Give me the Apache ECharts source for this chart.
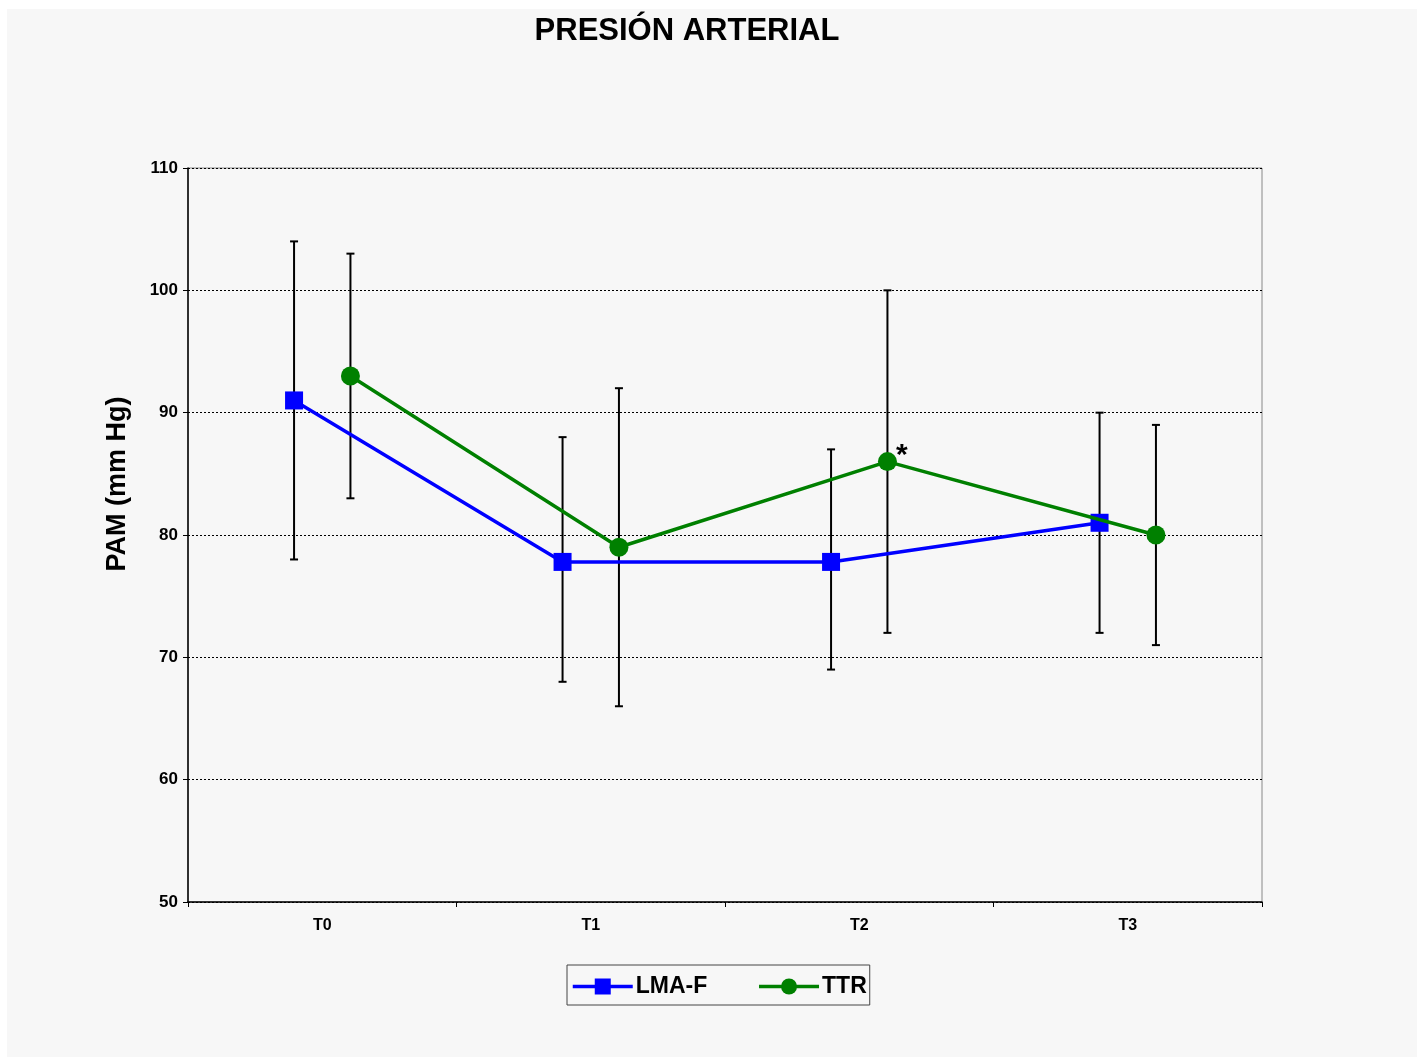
<!DOCTYPE html>
<html><head><meta charset="utf-8">
<script src="https://cdn.jsdelivr.net/npm/echarts@6/dist/echarts.min.js"></script>
<style>html,body{margin:0;padding:0;background:#fff}#c{width:1424px;height:1059px}</style>
</head><body><div id="c"></div>
<script>
const categories = ['T0','T1','T2','T3'];
const lmaMean = [91, 77.8, 77.8, 81];
const lmaLow  = [78, 68, 69, 72];
const lmaHigh = [104, 88, 87, 90];
const ttrMean = [93, 79, 86, 80];
const ttrLow  = [83, 66, 72, 71];
const ttrHigh = [103, 92, 100, 89];
const ttrNotes = ['', '', '*', ''];
const yTicks = [50, 60, 70, 80, 90, 100, 110];

const LMA_OFF = 0.395, TTR_OFF = 0.605;
const lmaPts = lmaMean.map((v,i)=>[i+LMA_OFF, v]);
const ttrPts = ttrMean.map((v,i)=>({value:[i+TTR_OFF, v], label: ttrNotes[i] ? {show:true, formatter: ttrNotes[i], position:'right', offset:[-6,-6], fontSize:30, fontWeight:'bold', color:'#000', fontFamily:'Liberation Sans'} : {show:false}}));
const lmaErr = lmaMean.map((v,i)=>[i+LMA_OFF, lmaLow[i], lmaHigh[i]]);
const ttrErr = ttrMean.map((v,i)=>[i+TTR_OFF, ttrLow[i], ttrHigh[i]]);

function errRender(params, api){
  const x = api.value(0), lo = api.value(1), hi = api.value(2);
  const p1 = api.coord([x, hi]), p2 = api.coord([x, lo]);
  const cap = 4;
  const st = {stroke:'#000', lineWidth:2};
  return {type:'group', children:[
    {type:'line', shape:{x1:p1[0],y1:p1[1],x2:p2[0],y2:p2[1]}, style:st},
    {type:'line', shape:{x1:p1[0]-cap,y1:p1[1],x2:p1[0]+cap,y2:p1[1]}, style:st},
    {type:'line', shape:{x1:p2[0]-cap,y1:p2[1],x2:p2[0]+cap,y2:p2[1]}, style:st}
  ]};
}

const chart = echarts.init(document.getElementById('c'));
const font = 'Liberation Sans';
chart.setOption({
  backgroundColor:'#fff',
  animation:false,
  textStyle:{fontFamily:font},
  graphic:[
    {type:'rect', shape:{x:7,y:9,width:1410,height:1048}, style:{fill:'#f7f7f7'}, z:-100, silent:true},
    {type:'text', x:118, y:484, rotation:Math.PI/2, silent:true, z:10,
     style:{text:'PAM (mm Hg)', fill:'#000', font:'bold 27px "Liberation Sans"', textAlign:'center', textVerticalAlign:'middle'}}
  ],
  title:{text:'PRESIÓN ARTERIAL', left:682, textAlign:'center', top:11,
    textStyle:{fontSize:31, fontWeight:'bold', color:'#000', fontFamily:font}},
  grid:{left:188, top:168, right:162, bottom:157, show:true, borderColor:'#888', borderWidth:1, backgroundColor:'transparent'},
  legend:{data:['LMA-F','TTR'], left:567, top:965, width:302, height:40, padding:[10,3,7,4],
    borderColor:'#444', borderWidth:1, itemWidth:60, itemHeight:20, itemGap:50,
    lineStyle:{width:3.5},
    textStyle:{fontSize:23, fontWeight:'bold', color:'#000', fontFamily:font, padding:[0,0,0,-2]}},
  xAxis:[
    {type:'category', data:categories, boundaryGap:true,
     axisLine:{lineStyle:{color:'#000', width:1.5}},
     axisTick:{show:true, length:5, lineStyle:{color:'#000'}},
     axisLabel:{fontSize:16, fontWeight:'bold', color:'#000', margin:16, fontFamily:font},
     splitLine:{show:false}},
    {type:'value', min:0, max:4, show:false, splitLine:{show:false}}
  ],
  yAxis:{type:'value', min:50, max:110, interval:10,
    axisLine:{show:true, lineStyle:{color:'#000', width:1.5}},
    axisTick:{show:true, length:5, lineStyle:{color:'#000'}},
    axisLabel:{fontSize:17, fontWeight:'bold', color:'#000', margin:10, fontFamily:font},
    splitLine:{show:true, lineStyle:{color:'#000', type:[2,2], width:1}}},
  series:[
    {type:'custom', xAxisIndex:1, renderItem:errRender, data:lmaErr, z:1, silent:true},
    {type:'custom', xAxisIndex:1, renderItem:errRender, data:ttrErr, z:1, silent:true},
    {name:'LMA-F', type:'line', xAxisIndex:1, data:lmaPts, symbol:'rect', symbolSize:18,
     lineStyle:{color:'#0000ff', width:3.5}, itemStyle:{color:'#0000ff'}, z:3},
    {name:'TTR', type:'line', xAxisIndex:1, data:ttrPts, symbol:'circle', symbolSize:19,
     lineStyle:{color:'#008000', width:3.5}, itemStyle:{color:'#008000'}, z:4}
  ]
});
</script></body></html>
